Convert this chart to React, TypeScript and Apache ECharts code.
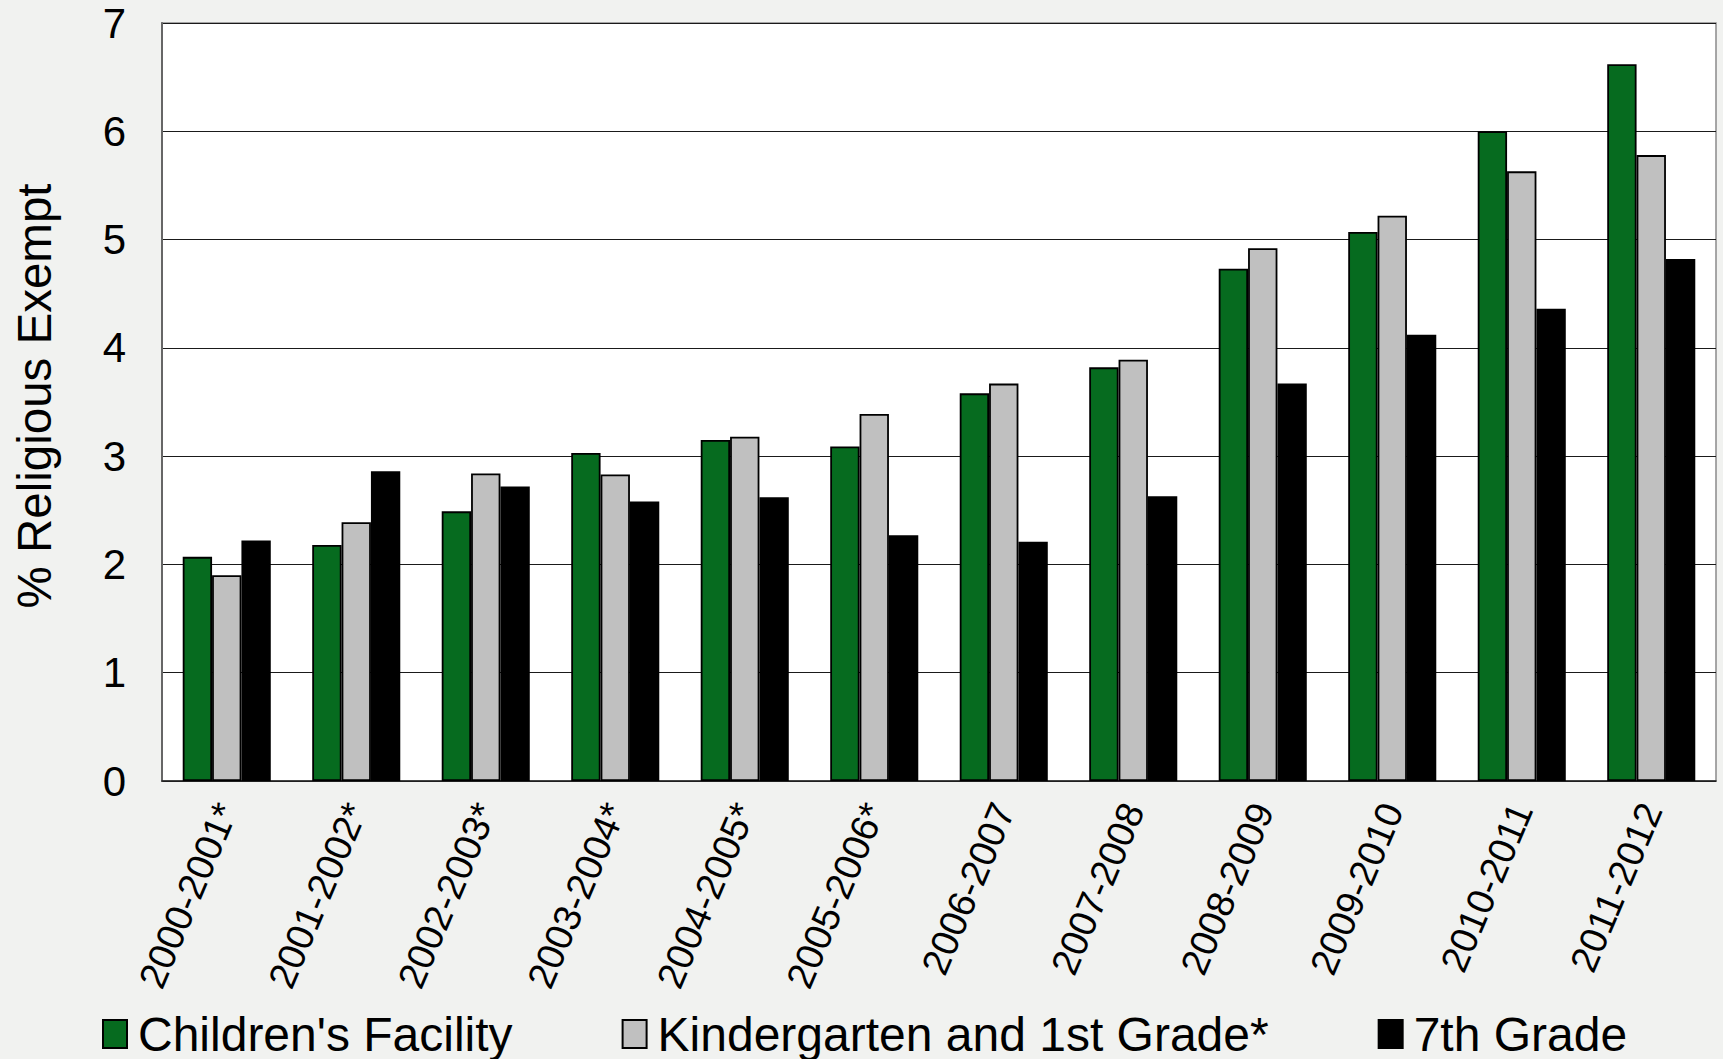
import React, { useEffect, useRef } from "react";
import * as echarts from "echarts";

const categories = [
  "2000-2001*", "2001-2002*", "2002-2003*", "2003-2004*", "2004-2005*", "2005-2006*",
  "2006-2007", "2007-2008", "2008-2009", "2009-2010", "2010-2011", "2011-2012",
];
const childrensFacility = [2.07, 2.18, 2.49, 3.03, 3.15, 3.09, 3.58, 3.82, 4.73, 5.07, 6.0, 6.62];
const kindergarten = [1.9, 2.39, 2.84, 2.83, 3.18, 3.39, 3.67, 3.89, 4.92, 5.22, 5.63, 5.78];
const seventhGrade = [2.22, 2.86, 2.72, 2.58, 2.62, 2.27, 2.21, 2.63, 3.67, 4.12, 4.36, 4.82];
const seriesNames = ["Children's Facility", "Kindergarten and 1st Grade*", "7th Grade"];
const yTicks = [0, 1, 2, 3, 4, 5, 6, 7];

const FONT = "'Liberation Sans', Arial, sans-serif";

export default function App() {
  const ref = useRef<HTMLDivElement>(null);
  useEffect(() => {
    document.body.style.margin = "0";
    const chart = echarts.init(ref.current!, null, { renderer: "svg" });
    const barStyle = (color: string) => ({
      color,
      borderColor: "#000",
      borderWidth: 1.8,
    });
    chart.setOption({
      animation: false,
      backgroundColor: "#f1f2f0",
      textStyle: { fontFamily: FONT, color: "#000" },
      grid: {
        left: 162,
        top: 23,
        right: 7,
        bottom: 278,
        show: true,
        backgroundColor: "#ffffff",
        borderColor: "#8a8a8a",
        borderWidth: 1.5,
      },
      legend: {
        left: 97,
        top: 1005,
        itemWidth: 24,
        itemHeight: 28,
        itemGap: 109,
        textStyle: { fontSize: 48, fontFamily: FONT, color: "#000", padding: [0, 0, 0, 6] },
        data: seriesNames.map((n) => ({ name: n, icon: "rect" })),
      },
      xAxis: {
        type: "category",
        data: categories,
        boundaryGap: true,
        axisLine: { show: true, lineStyle: { color: "#222", width: 1.5 } },
        axisTick: { show: false },
        axisLabel: {
          rotate: 67,
          fontSize: 38,
          fontFamily: FONT,
          color: "#000",
          margin: 24,
          interval: 0,
        },
      },
      yAxis: {
        type: "value",
        min: yTicks[0],
        max: yTicks[yTicks.length - 1],
        interval: 1,
        name: "% Religious Exempt",
        nameLocation: "middle",
        nameGap: 104,
        nameRotate: 90,
        nameTextStyle: { fontSize: 47.5, fontFamily: FONT, color: "#000", padding: [0, 0, 0, 12] },
        axisLine: { show: true, lineStyle: { color: "#666", width: 2 } },
        axisTick: { show: false },
        axisLabel: { fontSize: 42, fontFamily: FONT, color: "#000", margin: 36 },
        splitLine: { show: true, lineStyle: { color: "#1a1a1a", width: 1.2 } },
      },
      series: [
        {
          name: seriesNames[0],
          type: "bar",
          data: childrensFacility,
          barGap: "0%",
          barCategoryGap: "32%",
          itemStyle: barStyle("#066b1f"),
        },
        {
          name: seriesNames[1],
          type: "bar",
          data: kindergarten,
          barGap: "0%",
          barCategoryGap: "32%",
          itemStyle: barStyle("#c0c0c0"),
        },
        {
          name: seriesNames[2],
          type: "bar",
          data: seventhGrade,
          barGap: "0%",
          barCategoryGap: "32%",
          itemStyle: barStyle("#000000"),
        },
      ],
    });
    return () => chart.dispose();
  }, []);
  return <div ref={ref} style={{ width: 1723, height: 1059 }} />;
}
